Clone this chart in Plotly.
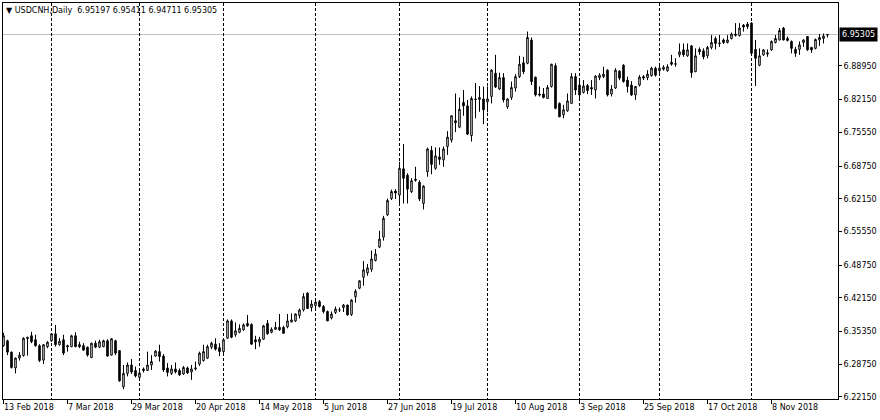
import plotly.graph_objects as go

# ---- data (USDCNH daily, 13 Feb 2018 .. Nov 2018) ----
open_ = [6.325, 6.335, 6.312, 6.280, 6.300, 6.305, 6.339, 6.345, 6.337, 6.325,
         6.296, 6.323, 6.335, 6.349, 6.327, 6.337, 6.325, 6.323, 6.345, 6.327,
         6.325, 6.322, 6.301, 6.330, 6.322, 6.323, 6.335, 6.306, 6.335, 6.315,
         6.242, 6.269, 6.286, 6.275, 6.261, 6.278, 6.275, 6.286, 6.304, 6.313,
         6.304, 6.280, 6.269, 6.278, 6.275, 6.268, 6.280, 6.272, 6.278, 6.288,
         6.295, 6.300, 6.322, 6.328, 6.321, 6.313, 6.340, 6.375, 6.347, 6.352,
         6.357, 6.370, 6.368, 6.337, 6.332, 6.338, 6.370, 6.352, 6.358, 6.362,
         6.362, 6.363, 6.373, 6.375, 6.386, 6.397, 6.431, 6.402, 6.406, 6.414,
         6.404, 6.394, 6.381, 6.392, 6.397, 6.402, 6.407, 6.388, 6.424, 6.441,
         6.463, 6.472, 6.479, 6.497, 6.524, 6.544, 6.589, 6.622, 6.637, 6.629,
         6.682, 6.669, 6.636, 6.661, 6.655, 6.612, 6.676, 6.719, 6.683, 6.706,
         6.700, 6.727, 6.740, 6.779, 6.766, 6.816, 6.809, 6.749, 6.823, 6.822,
         6.823, 6.817, 6.828, 6.875, 6.843, 6.866, 6.807, 6.826, 6.845, 6.868,
         6.896, 6.895, 6.942, 6.867, 6.833, 6.833, 6.824, 6.848, 6.890, 6.814,
         6.791, 6.799, 6.814, 6.868, 6.851, 6.836, 6.850, 6.846, 6.841, 6.866,
         6.868, 6.881, 6.833, 6.845, 6.879, 6.891, 6.861, 6.851, 6.831, 6.851,
         6.868, 6.866, 6.870, 6.885, 6.880, 6.883, 6.880, 6.897, 6.893, 6.912,
         6.922, 6.910, 6.930, 6.878, 6.923, 6.920, 6.910, 6.927, 6.945, 6.936,
         6.942, 6.937, 6.945, 6.951, 6.951, 6.972, 6.974, 6.976, 6.923, 6.891,
         6.912, 6.916, 6.922, 6.937, 6.942, 6.966, 6.945, 6.939, 6.923, 6.923,
         6.937, 6.949, 6.927, 6.925, 6.942, 6.945, 6.95197]

high = [6.351, 6.337, 6.313, 6.301, 6.312, 6.342, 6.343, 6.353, 6.347, 6.328,
        6.328, 6.334, 6.350, 6.367, 6.340, 6.347, 6.327, 6.347, 6.352, 6.333,
        6.330, 6.323, 6.331, 6.335, 6.337, 6.337, 6.338, 6.340, 6.337, 6.316,
        6.286, 6.291, 6.298, 6.283, 6.276, 6.281, 6.313, 6.306, 6.316, 6.327,
        6.308, 6.290, 6.286, 6.291, 6.279, 6.284, 6.283, 6.286, 6.293, 6.313,
        6.327, 6.327, 6.333, 6.340, 6.330, 6.340, 6.378, 6.378, 6.372, 6.368,
        6.370, 6.387, 6.370, 6.345, 6.343, 6.367, 6.377, 6.362, 6.373, 6.389,
        6.365, 6.389, 6.390, 6.390, 6.400, 6.431, 6.433, 6.417, 6.419, 6.417,
        6.407, 6.396, 6.394, 6.404, 6.402, 6.409, 6.408, 6.419, 6.439, 6.457,
        6.496, 6.490, 6.517, 6.520, 6.557, 6.587, 6.622, 6.640, 6.641, 6.696,
        6.732, 6.673, 6.663, 6.686, 6.659, 6.649, 6.725, 6.728, 6.725, 6.725,
        6.727, 6.758, 6.790, 6.834, 6.826, 6.841, 6.821, 6.828, 6.855, 6.849,
        6.848, 6.848, 6.883, 6.912, 6.876, 6.875, 6.824, 6.858, 6.873, 6.910,
        6.908, 6.959, 6.947, 6.868, 6.848, 6.845, 6.851, 6.894, 6.895, 6.816,
        6.811, 6.834, 6.875, 6.875, 6.861, 6.861, 6.853, 6.861, 6.871, 6.875,
        6.888, 6.883, 6.851, 6.885, 6.881, 6.893, 6.868, 6.859, 6.849, 6.871,
        6.871, 6.881, 6.888, 6.888, 6.891, 6.891, 6.893, 6.912, 6.905, 6.935,
        6.935, 6.935, 6.932, 6.925, 6.927, 6.925, 6.930, 6.952, 6.949, 6.952,
        6.945, 6.952, 6.957, 6.976, 6.976, 6.974, 6.978, 6.978, 6.942, 6.925,
        6.923, 6.923, 6.941, 6.952, 6.966, 6.968, 6.949, 6.941, 6.928, 6.939,
        6.943, 6.950, 6.928, 6.945, 6.954, 6.955, 6.95411]

low = [6.323, 6.306, 6.279, 6.269, 6.295, 6.303, 6.305, 6.330, 6.323, 6.292,
       6.288, 6.320, 6.333, 6.323, 6.325, 6.306, 6.313, 6.322, 6.322, 6.320,
       6.315, 6.303, 6.300, 6.320, 6.320, 6.322, 6.303, 6.305, 6.306, 6.252,
       6.237, 6.263, 6.268, 6.261, 6.259, 6.271, 6.274, 6.276, 6.303, 6.293,
       6.272, 6.263, 6.266, 6.269, 6.264, 6.266, 6.268, 6.256, 6.275, 6.284,
       6.293, 6.298, 6.318, 6.315, 6.304, 6.310, 6.339, 6.340, 6.343, 6.350,
       6.355, 6.363, 6.327, 6.318, 6.323, 6.337, 6.347, 6.350, 6.357, 6.355,
       6.349, 6.360, 6.372, 6.373, 6.380, 6.394, 6.399, 6.394, 6.399, 6.402,
       6.390, 6.375, 6.378, 6.389, 6.393, 6.393, 6.386, 6.385, 6.412, 6.439,
       6.446, 6.466, 6.474, 6.495, 6.522, 6.537, 6.587, 6.619, 6.621, 6.609,
       6.612, 6.612, 6.633, 6.656, 6.617, 6.600, 6.666, 6.671, 6.680, 6.690,
       6.686, 6.710, 6.735, 6.756, 6.764, 6.789, 6.750, 6.737, 6.784, 6.797,
       6.772, 6.796, 6.814, 6.845, 6.841, 6.816, 6.803, 6.821, 6.838, 6.865,
       6.873, 6.893, 6.851, 6.828, 6.828, 6.824, 6.823, 6.846, 6.802, 6.786,
       6.784, 6.797, 6.813, 6.831, 6.821, 6.834, 6.833, 6.831, 6.824, 6.861,
       6.865, 6.828, 6.828, 6.843, 6.861, 6.856, 6.836, 6.829, 6.821, 6.848,
       6.861, 6.861, 6.868, 6.868, 6.871, 6.880, 6.878, 6.890, 6.888, 6.907,
       6.908, 6.908, 6.866, 6.877, 6.912, 6.903, 6.905, 6.923, 6.923, 6.928,
       6.934, 6.935, 6.943, 6.949, 6.949, 6.959, 6.964, 6.912, 6.849, 6.889,
       6.910, 6.908, 6.920, 6.935, 6.941, 6.941, 6.939, 6.915, 6.908, 6.912,
       6.928, 6.920, 6.916, 6.923, 6.930, 6.935, 6.94711]

close = [6.345, 6.312, 6.281, 6.300, 6.306, 6.340, 6.342, 6.333, 6.325, 6.295,
         6.327, 6.332, 6.349, 6.327, 6.334, 6.310, 6.323, 6.345, 6.323, 6.323,
         6.316, 6.306, 6.330, 6.322, 6.333, 6.335, 6.304, 6.339, 6.310, 6.254,
         6.269, 6.286, 6.272, 6.264, 6.270, 6.275, 6.286, 6.293, 6.314, 6.303,
         6.276, 6.271, 6.278, 6.272, 6.266, 6.281, 6.270, 6.278, 6.280, 6.310,
         6.313, 6.323, 6.330, 6.318, 6.313, 6.337, 6.375, 6.342, 6.355, 6.360,
         6.367, 6.365, 6.328, 6.333, 6.338, 6.365, 6.349, 6.358, 6.362, 6.357,
         6.350, 6.375, 6.377, 6.389, 6.397, 6.424, 6.400, 6.409, 6.413, 6.404,
         6.394, 6.375, 6.389, 6.399, 6.397, 6.407, 6.387, 6.417, 6.435, 6.456,
         6.478, 6.482, 6.500, 6.510, 6.540, 6.582, 6.618, 6.636, 6.633, 6.683,
         6.663, 6.641, 6.658, 6.659, 6.621, 6.647, 6.722, 6.691, 6.708, 6.701,
         6.722, 6.746, 6.789, 6.775, 6.802, 6.809, 6.752, 6.824, 6.822, 6.826,
         6.801, 6.823, 6.881, 6.847, 6.866, 6.821, 6.823, 6.846, 6.868, 6.893,
         6.878, 6.947, 6.858, 6.831, 6.831, 6.826, 6.846, 6.893, 6.804, 6.787,
         6.801, 6.819, 6.868, 6.841, 6.831, 6.849, 6.840, 6.843, 6.869, 6.871,
         6.873, 6.831, 6.843, 6.881, 6.865, 6.858, 6.848, 6.831, 6.848, 6.867,
         6.865, 6.873, 6.885, 6.871, 6.885, 6.887, 6.888, 6.893, 6.894, 6.918,
         6.912, 6.922, 6.876, 6.910, 6.918, 6.908, 6.927, 6.937, 6.935, 6.935,
         6.937, 6.942, 6.954, 6.954, 6.966, 6.968, 6.969, 6.915, 6.905, 6.910,
         6.922, 6.914, 6.939, 6.945, 6.961, 6.942, 6.941, 6.925, 6.915, 6.932,
         6.942, 6.922, 6.922, 6.943, 6.947, 6.950, 6.95305]

# tick labels on the time axis (bar index where each label sits)
date_label_idx = [0, 16, 32, 48, 64, 80, 96, 112, 128, 144, 160, 176, 192]
date_labels = ["13 Feb 2018", "7 Mar 2018", "29 Mar 2018", "20 Apr 2018",
               "14 May 2018", "5 Jun 2018", "27 Jun 2018", "19 Jul 2018",
               "10 Aug 2018", "3 Sep 2018", "25 Sep 2018", "17 Oct 2018",
               "8 Nov 2018"]
# first bar of each month -> dashed vertical grid
month_start_idx = [12, 34, 55, 78, 99, 121, 144, 164, 187]
# price scale labels
price_ticks = [6.88950, 6.82150, 6.75550, 6.68750, 6.62150, 6.55550,
               6.48750, 6.42150, 6.35350, 6.28750, 6.22150]

symbol = "USDCNH,Daily"

n = len(close)
bars = list(range(n))
FONT = "DejaVu Sans"
x_range = [-0.125, 208.625]
y_range = [6.2174, 7.0166]

fig = go.Figure()
fig.add_trace(go.Candlestick(
    x=bars, open=open_, high=high, low=low, close=close,
    increasing=dict(line=dict(color="black", width=1), fillcolor="white"),
    decreasing=dict(line=dict(color="black", width=1), fillcolor="black"),
    whiskerwidth=0, showlegend=False, hoverinfo="skip",
))
# empty helper trace so the label axis is drawn
fig.add_trace(go.Scatter(x=[], y=[], xaxis="x2", yaxis="y",
                         showlegend=False, hoverinfo="skip"))

last = close[-1]
fig.add_shape(type="line", xref="paper", x0=0, x1=1, yref="y", y0=last, y1=last,
              line=dict(color="#c0c0c0", width=1), layer="below")

fig.add_annotation(xref="paper", x=1, xanchor="left", xshift=1,
                   yref="y", y=last, yanchor="middle",
                   text=f"{last:.5f}", showarrow=False,
                   font=dict(family=FONT, size=8, color="white"),
                   bgcolor="black", borderpad=2)

fig.add_annotation(xref="paper", x=0, xanchor="left", xshift=1,
                   yref="paper", y=1, yanchor="top", yshift=-1,
                   text=f"▼ {symbol}  {open_[-1]:.5f} {high[-1]:.5f} {low[-1]:.5f} {close[-1]:.5f}",
                   showarrow=False,
                   font=dict(family=FONT, size=8, color="black"))

fig.update_layout(
    width=880, height=420,
    margin=dict(l=3, r=42, t=3, b=21),
    paper_bgcolor="white", plot_bgcolor="white",
    boxgap=0.45,
    showlegend=False,
    font=dict(family=FONT, size=8, color="black"),
    xaxis=dict(
        range=x_range, showline=True, linecolor="black", linewidth=1, mirror=True,
        tickmode="array", tickvals=month_start_idx, showticklabels=False, ticks="",
        showgrid=True, gridcolor="black", gridwidth=1, griddash="3px,2px",
        zeroline=False, rangeslider=dict(visible=False), fixedrange=True,
    ),
    xaxis2=dict(
        range=x_range, overlaying="x", anchor="y", side="bottom",
        tickmode="array", tickvals=date_label_idx, ticktext=date_labels,
        ticks="outside", ticklen=4, tickcolor="black", tickwidth=1,
        ticklabelposition="outside right",
        tickfont=dict(family=FONT, size=8, color="black"),
        showgrid=False, showline=False, zeroline=False, fixedrange=True,
    ),
    yaxis=dict(
        range=y_range, side="right", showline=True, linecolor="black", linewidth=1,
        mirror=True, tickmode="array", tickvals=price_ticks,
        ticktext=[f"{v:.5f}" for v in price_ticks],
        ticks="outside", ticklen=3, tickcolor="black",
        tickfont=dict(family=FONT, size=8, color="black"),
        showgrid=False, zeroline=False, fixedrange=True,
    ),
)

fig.write_html("out.html", config={"displayModeBar": False},
               post_script="document.body.style.margin='0';document.body.style.overflow='hidden';")
